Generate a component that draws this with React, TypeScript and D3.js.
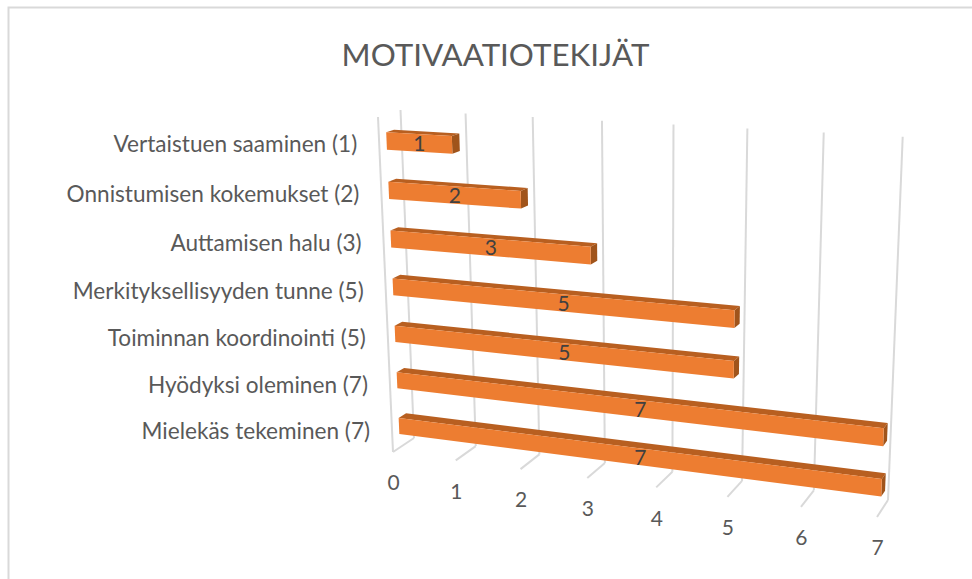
import { useRef, useEffect } from 'react';
import * as d3 from 'd3';

const title = 'MOTIVAATIOTEKIJÄT';
const categories = [
  'Vertaistuen saaminen (1)',
  'Onnistumisen kokemukset (2)',
  'Auttamisen halu (3)',
  'Merkityksellisyyden tunne (5)',
  'Toiminnan koordinointi (5)',
  'Hyödyksi oleminen (7)',
  'Mielekäs tekeminen (7)',
];
const values = [1, 2, 3, 5, 5, 7, 7];
const valueTicks = [0, 1, 2, 3, 4, 5, 6, 7];

type Pt = [number, number];

// Maps the unit square onto a quad, so the flat chart gets the 3D tilt
function squareToQuad(p0: Pt, p1: Pt, p2: Pt, p3: Pt) {
  const dx1 = p1[0] - p2[0], dx2 = p3[0] - p2[0], sx = p0[0] - p1[0] + p2[0] - p3[0];
  const dy1 = p1[1] - p2[1], dy2 = p3[1] - p2[1], sy = p0[1] - p1[1] + p2[1] - p3[1];
  const den = dx1 * dy2 - dx2 * dy1;
  const g = (sx * dy2 - dx2 * sy) / den;
  const h = (dx1 * sy - sx * dy1) / den;
  const a = p1[0] - p0[0] + g * p1[0], b = p3[0] - p0[0] + h * p3[0];
  const d = p1[1] - p0[1] + g * p1[1], e = p3[1] - p0[1] + h * p3[1];
  return (u: number, v: number): Pt => {
    const w = g * u + h * v + 1;
    return [(a * u + b * v + p0[0]) / w, (d * u + e * v + p0[1]) / w];
  };
}

// Plot planes: floor-left, floor-right, top-right, top-left
const frontPlane = squareToQuad([393, 452], [877, 517], [891, 144], [378, 117]);
const backPlane = squareToQuad([414, 438], [888, 500], [902.7, 136.7], [400.5, 110]);

const project = (u: number, c: number, depth: number): Pt => {
  const f = frontPlane(u, c);
  const b = backPlane(u, c);
  return [f[0] + (b[0] - f[0]) * depth, f[1] + (b[1] - f[1]) * depth];
};

const BAR_FRONT = 0.33;
const BAR_BACK = 0.68;
const FONT = 'Lato, sans-serif';

export default function App() {
  const svgRef = useRef<SVGSVGElement>(null);

  useEffect(() => {
    if (!svgRef.current) return;
    const svg = d3.select(svgRef.current);
    svg.selectAll('*').remove();

    const width = 972;
    const height = 579;
    svg.attr('viewBox', `0 0 ${width} ${height}`);

    const xScale = d3.scaleLinear().domain([0, 7]).range([0, 1]);
    const yScale = d3.scaleBand<string>()
      .domain([...categories].reverse())
      .range([0, 1])
      .paddingInner(0.65)
      .paddingOuter(0.325)
      .align(0.46);

    const line = d3.line<Pt>();
    const closed = d3.line<Pt>().curve(d3.curveLinearClosed);

    // Chart frame, only top and left are in view
    svg.append('rect')
      .attr('x', 8.5).attr('y', 7.5)
      .attr('width', width + 20).attr('height', height + 20)
      .attr('fill', '#fff')
      .attr('stroke', '#D9D9D9')
      .attr('stroke-width', 2);

    svg.append('text')
      .attr('x', 495.5).attr('y', 66)
      .attr('text-anchor', 'middle')
      .attr('fill', '#595959')
      .style('font-family', FONT)
      .style('font-size', '31.3px')
      .text(title);

    // Grid on back wall + floor ticks
    const grid = svg.append('g').attr('fill', 'none').attr('stroke', '#D9D9D9').attr('stroke-width', 2);
    valueTicks.forEach((t) => {
      const u = xScale(t);
      grid.append('path').attr('d', line([project(u, 0, 1), project(u, 1, 1)]));
      grid.append('path').attr('d', line([project(u, 0, 0), project(u, 0, 1)]));
    });
    grid.append('path').attr('d', line([project(0, 0, 0), project(0, 1, 0)]));

    // Bars
    categories.forEach((cat, i) => {
      const c0 = yScale(cat)!;
      const c1 = c0 + yScale.bandwidth();
      const u = xScale(values[i]);
      const g = svg.append('g');
      g.append('path')
        .attr('d', closed([project(0, c1, BAR_FRONT), project(0, c1, BAR_BACK), project(u, c1, BAR_BACK), project(u, c1, BAR_FRONT)]))
        .attr('fill', '#B85F20');
      g.append('path')
        .attr('d', closed([project(u, c0, BAR_FRONT), project(u, c0, BAR_BACK), project(u, c1, BAR_BACK), project(u, c1, BAR_FRONT)]))
        .attr('fill', '#A0541B');
      g.append('path')
        .attr('d', closed([project(0, c0, BAR_FRONT), project(u, c0, BAR_FRONT), project(u, c1, BAR_FRONT), project(0, c1, BAR_FRONT)]))
        .attr('fill', '#ED7D31');
    });

    // Data labels sit at the on-screen middle of the bar's front face
    categories.forEach((cat, i) => {
      const c = yScale(cat)! + yScale.bandwidth() / 2;
      const start = project(0, c, BAR_FRONT);
      const end = project(xScale(values[i]), c, BAR_FRONT);
      svg.append('text')
        .attr('x', (start[0] + end[0]) / 2).attr('y', (start[1] + end[1]) / 2 + 0.5)
        .attr('dy', '0.35em')
        .attr('text-anchor', 'middle')
        .attr('fill', '#404040')
        .style('font-family', FONT)
        .style('font-size', '21px')
        .text(values[i]);
    });

    // Category labels
    categories.forEach((cat) => {
      const [x, y] = project(0, yScale(cat)! + yScale.bandwidth() / 2, 0);
      svg.append('text')
        .attr('x', x - 22).attr('y', y + 0.5)
        .attr('dy', '0.35em')
        .attr('text-anchor', 'end')
        .attr('fill', '#595959')
        .style('font-family', FONT)
        .style('font-size', '22.6px')
        .text(cat);
    });

    // Value axis labels
    valueTicks.forEach((t) => {
      const [x, y] = project(xScale(t), 0, 0);
      svg.append('text')
        .attr('x', x + 0.5).attr('y', y + 31)
        .attr('dy', '0.35em')
        .attr('text-anchor', 'middle')
        .attr('fill', '#595959')
        .style('font-family', FONT)
        .style('font-size', '21px')
        .text(t);
    });
  }, []);

  return (
    <svg
      ref={svgRef}
      width={972}
      height={579}
      style={{ position: 'fixed', left: 0, top: 0, display: 'block' }}
    />
  );
}
